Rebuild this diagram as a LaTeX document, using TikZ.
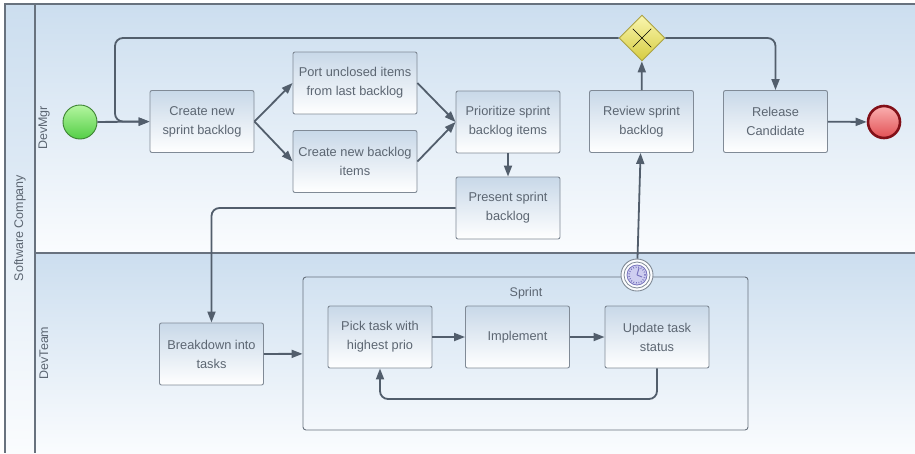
\documentclass[tikz,border=0pt]{standalone}
\usepackage{fontspec}
\setmainfont{Liberation Sans}
\usepackage{tikz}
\usetikzlibrary{arrows.meta}
\usetikzlibrary{shapes.geometric}
\usepackage{xcolor}

\definecolor{wirecol}{RGB}{82,94,108}
\definecolor{boxline}{RGB}{128,138,150}
\definecolor{boxtop}{RGB}{200,216,232}
\definecolor{boxtext}{RGB}{92,102,114}
\definecolor{lanetop}{RGB}{204,222,239}
\definecolor{lanebot}{RGB}{250,252,254}
\definecolor{poolline}{RGB}{104,114,126}
\definecolor{gwtop}{RGB}{250,246,176}
\definecolor{gwbot}{RGB}{214,204,64}
\definecolor{gwline}{RGB}{170,162,70}
\definecolor{starttop}{RGB}{180,246,160}
\definecolor{startbot}{RGB}{84,206,70}
\definecolor{startline}{RGB}{60,130,50}
\definecolor{endtop}{RGB}{250,176,176}
\definecolor{endbot}{RGB}{226,80,84}
\definecolor{endline}{RGB}{130,16,24}
\definecolor{clockface}{RGB}{206,206,240}
\definecolor{clockline}{RGB}{120,116,190}

\begin{document}
\begin{tikzpicture}
	[x=1pt,y=-1pt,
	>={Triangle[length=11pt,width=8pt]},
	box/.style = {
		draw=boxline, line width=0.9pt, rounded corners=2pt,
		top color=boxtop, bottom color=white,
		minimum width=104pt, minimum height=62pt, align=center,
		text=boxtext, font=\fontsize{12.8}{19}\selectfont
	},
	widebox/.style = {
		box, minimum width=124pt
	},
	subproc/.style = {
		draw=poolline, line width=0.9pt, rounded corners=3pt,
		minimum width=445pt, minimum height=153pt
	},
	lane/.style = {
		top color=lanetop, bottom color=lanebot
	},
	lanelabel/.style = {
		rotate=90, text=boxtext, font=\fontsize{12.5}{15}\selectfont
	},
	gateway/.style = {
		diamond, draw=gwline, line width=0.9pt, top color=gwtop, bottom color=gwbot,
		inner sep=0pt, minimum size=46pt,
		append after command = {
			[draw=black!65, line width=2.6pt, shorten >=3.5pt, shorten <=3.5pt]
			(\tikzlastnode.north west) edge (\tikzlastnode.south east)
			(\tikzlastnode.north east) edge (\tikzlastnode.south west)
		}
	},
	startev/.style = {
		circle, draw=startline, line width=0.9pt, top color=starttop, bottom color=startbot,
		inner sep=0pt, minimum size=34pt
	},
	endev/.style = {
		circle, draw=endline, line width=2.6pt, top color=endtop, bottom color=endbot,
		inner sep=0pt, minimum size=32pt
	},
	timer/.style = {
		circle, draw=boxline, line width=0.9pt, fill=white!92!lanetop,
		inner sep=0pt, minimum size=32pt
	},
	wire/.style = {
		draw=wirecol, line width=1.8pt, rounded corners=8pt
	}]

	\useasboundingbox (0,0) rectangle (915,453);

	%Draw pool and lanes
	\shade[lane] (5,4) rectangle (35,453);
	\shade[lane] (35,4) rectangle (915,253);
	\shade[lane] (35,253) rectangle (915,453);
	\draw[poolline, line width=1.1pt] (915,4) -- (5,4) -- (5,453);
	\draw[poolline, line width=1.1pt] (35,4) -- (35,453);
	\draw[poolline, line width=1.1pt] (35,253) -- (915,253);
	\node[lanelabel] at (20,228) (lpool) {Software Company};
	\node[lanelabel] at (44,128) (lmgr) {DevMgr};
	\node[lanelabel] at (44,353) (lteam) {DevTeam};

	%Draw nodes
	\node[startev] at (80,122) (start) {};
	\node[box] at (202,121.5) (create) {Create new\\sprint backlog};
	\node[widebox] at (355,83) (port) {Port unclosed items\\from last backlog};
	\node[widebox] at (355,161.5) (newitems) {Create new backlog\\items};
	\node[box] at (508,122) (prio) {Prioritize sprint\\backlog items};
	\node[box] at (508,208) (present) {Present sprint\\backlog};
	\node[gateway] at (642,38) (gw) {};
	\node[box] at (641.5,121.5) (review) {Review sprint\\backlog};
	\node[box] at (775.5,121.5) (release) {Release\\Candidate};
	\node[endev] at (884,122) (end) {};
	\node[box] at (211.5,354) (breakdown) {Breakdown into\\tasks};
	\node[subproc] at (525.5,353.5) (sprint) {};
	\node[text=boxtext, font=\fontsize{12.5}{15}\selectfont] at (526,293) (sprintlbl) {Sprint};
	\node[box] at (380,337) (pick) {Pick task with\\highest prio};
	\node[box] at (517.5,337) (impl) {Implement};
	\node[box] at (657,337) (update) {Update task\\status};
	\node[timer] at (637,275) (tmr) {};
	\coordinate (cloop) at (115,121.5);
	\coordinate (cback) at (518,399);

	%Draw clock
	\draw[boxline, line width=0.8pt] (tmr.center) circle (13pt);
	\draw[clockline, fill=clockface, line width=0.8pt] (tmr.center) circle (10pt);
	\draw[clockline, line width=1.6pt, dash pattern=on 0.8pt off 1.8pt] (tmr.center) circle (8pt);
	\draw[clockline, line width=1pt] (tmr.center) -- ++(2,-7) (tmr.center) -- ++(5,2);

	%Draw wires
	\draw[wire,->] (start) -- (create);
	\draw[wire,->] (gw.west) -| (cloop) -- (create.west);
	\draw[wire,->] (create.east) -- (port.west);
	\draw[wire,->] (create.east) -- (newitems.west);
	\draw[wire,->] (port.east) -- (prio.west);
	\draw[wire,->] (newitems.east) -- (prio.west);
	\draw[wire,->] (prio) -- (present);
	\draw[wire,->] (present.west) -| (breakdown.north);
	\draw[wire,->] (breakdown) -- (sprint);
	\draw[wire,->] (pick) -- (impl);
	\draw[wire,->] (impl) -- (update);
	\draw[wire,->] (update.south) |- (cback) -| (pick.south);
	\draw[wire,->] (tmr) -- (review);
	\draw[wire,->] (review) -- (gw);
	\draw[wire,->] (gw.east) -| (release.north);
	\draw[wire,->] (release) -- (end);
\end{tikzpicture}
\end{document}
